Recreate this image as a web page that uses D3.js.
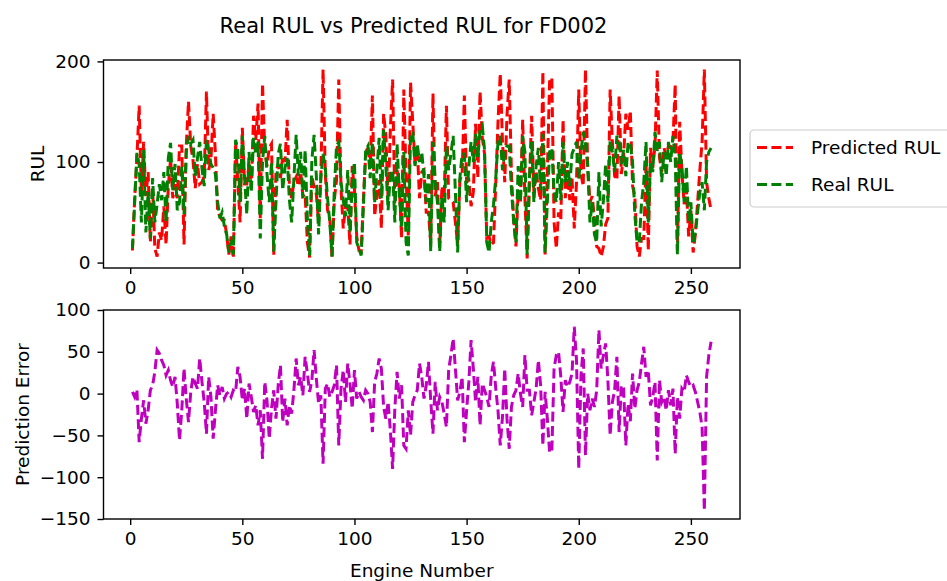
<!DOCTYPE html>
<html>
<head>
<meta charset="utf-8">
<script src="https://cdn.jsdelivr.net/npm/d3@7"></script>
<style>
  body { margin: 0; background: #fff; }
  svg { font-family: 'DejaVu Sans', sans-serif; }
</style>
</head>
<body>
<svg width="947" height="581"></svg>
<script>
// real RUL per engine
const realRUL = [
  14, 60, 109, 98, 40, 112, 30, 70, 24, 84,
  40, 58, 78, 62, 90, 40, 104, 119, 72, 98,
  52, 60, 96, 48, 110, 126, 118, 122, 86, 104,
  120, 94, 76, 122, 112, 98, 94, 88, 60, 44,
  50, 36, 28, 10, 22, 8, 122, 112, 60, 126,
  84, 48, 110, 70, 124, 108, 120, 24, 100, 126,
  88, 60, 100, 11, 60, 108, 118, 72, 94, 104,
  62, 40, 84, 127, 86, 110, 64, 112, 44, 7,
  102, 127, 86, 28, 84, 108, 94, 64, 40, 6,
  72, 116, 120, 80, 62, 46, 92, 30, 78, 100,
  20, 14, 7, 56, 112, 116, 84, 120, 60, 92,
  124, 64, 132, 96, 52, 88, 92, 40, 118, 70,
  34, 110, 20, 7, 129, 129, 96, 118, 100, 110,
  86, 60, 88, 11, 120, 80, 60, 11, 66, 40,
  116, 92, 108, 126, 70, 10, 84, 108, 108, 60,
  96, 120, 100, 128, 104, 132, 136, 112, 20, 10,
  40, 58, 84, 120, 126, 92, 110, 116, 116, 72,
  40, 20, 96, 60, 126, 110, 8, 84, 120, 60,
  96, 114, 72, 128, 10, 60, 110, 114, 70, 60,
  100, 62, 120, 80, 100, 76, 108, 114, 120, 82,
  110, 130, 118, 96, 40, 60, 28, 20, 90, 36,
  62, 98, 60, 122, 110, 90, 126, 120, 98, 112,
  86, 120, 118, 100, 48, 20, 20, 60, 80, 120,
  40, 100, 90, 130, 111, 120, 80, 110, 86, 120,
  100, 126, 105, 8, 110, 96, 60, 96, 40, 60,
  20, 30, 50, 70, 80, 52, 100, 110, 114
];

// predicted RUL per engine (red line)
const predRUL = [
  12, 64, 104, 156, 70, 120, 66, 90, 20, 74,
  14, 6, 30, 22, 56, 18, 76, 103, 64, 78,
  64, 116, 116, 18, 116, 160, 116, 102, 74, 98,
  78, 80, 86, 170, 92, 102, 148, 108, 50, 46,
  42, 42, 28, 8, 26, 4, 120, 80, 40, 134,
  78, 78, 98, 74, 146, 122, 158, 44, 178, 112,
  96, 114, 118, 7, 90, 98, 84, 106, 100, 142,
  76, 64, 80, 85, 76, 90, 66, 68, 20, 5,
  86, 75, 68, 40, 86, 192, 88, 52, 44, 4,
  62, 82, 182, 74, 34, 56, 56, 18, 96, 72,
  26, 12, 11, 64, 108, 116, 94, 166, 46, 68,
  82, 34, 148, 126, 62, 132, 182, 58, 92, 76,
  24, 172, 86, 27, 179, 139, 98, 114, 64, 90,
  92, 50, 50, 19, 168, 66, 80, 15, 76, 64,
  156, 64, 62, 60, 40, 18, 82, 88, 166, 80,
  82, 56, 70, 138, 84, 170, 124, 108, 24, 26,
  18, 20, 78, 140, 188, 120, 80, 146, 182, 88,
  42, 16, 72, 60, 142, 64, 4, 80, 146, 70,
  90, 74, 62, 190, 8, 90, 180, 184, 40, 14,
  50, 42, 142, 64, 92, 62, 84, 34, 80, 172,
  88, 76, 192, 96, 60, 66, 44, 16, 14, 6,
  16, 38, 44, 172, 120, 86, 82, 166, 88, 106,
  148, 132, 151, 76, 66, 16, 6, 24, 24, 100,
  12, 114, 94, 116, 191, 104, 90, 114, 106, 116,
  114, 120, 177, 12, 140, 90, 58, 74, 26, 52,
  10, 28, 60, 92, 120, 192, 80, 64, 52
];

const xTicks = [0, 50, 100, 150, 200, 250];
const rulTicks = [0, 100, 200];
const errTicks = [100, 50, 0, -50, -100, -150];
const errRange = [-150, 100];

const engines = realRUL.map((d, i) => i + 1);
// error = real - predicted, like the original plot
const errors = realRUL.map((d, i) => d - predRUL[i]);

const svg = d3.select('svg');
const left = 103.5, right = 740;
const top1 = 60, bottom1 = 268;
const top2 = 310, bottom2 = 519;
const tickFont = '18.5px';
const dash = '10,4.4';
const lw = 3;

// matplotlib style 5% margins
const xMin = 1, xMax = engines.length;
const xPad = (xMax - xMin) * 0.05;
const x = d3.scaleLinear().domain([xMin - xPad, xMax + xPad]).range([left, right]);

const allRul = realRUL.concat(predRUL);
const rMin = d3.min(allRul), rMax = d3.max(allRul);
const rPad = (rMax - rMin) * 0.05;
const y1 = d3.scaleLinear().domain([rMin - rPad, rMax + rPad]).range([bottom1, top1]);
const y2 = d3.scaleLinear().domain(errRange).range([bottom2, top2]);

function drawAxes(y, yTicks, top, bottom) {
  const gx = svg.append('g').attr('transform', 'translate(0,' + bottom + ')')
    .call(d3.axisBottom(x).tickValues(xTicks).tickSize(6).tickPadding(7));
  const gy = svg.append('g').attr('transform', 'translate(' + left + ',0)')
    .call(d3.axisLeft(y).tickValues(yTicks).tickSize(6).tickPadding(7));
  [gx, gy].forEach(g => {
    g.select('.domain').remove();
    g.selectAll('line').attr('stroke', '#000').attr('stroke-width', 1.4);
    g.selectAll('text').attr('fill', '#000').style('font-size', tickFont)
      .style('font-family', 'DejaVu Sans');
  });
  svg.append('rect')
    .attr('x', left).attr('y', top)
    .attr('width', right - left).attr('height', bottom - top)
    .attr('fill', 'none').attr('stroke', '#000').attr('stroke-width', 1.4);
}

function drawLine(vals, y, color) {
  const line = d3.line().x((d, i) => x(engines[i])).y(d => y(d));
  svg.append('path')
    .datum(vals)
    .attr('d', line)
    .attr('fill', 'none')
    .attr('stroke', color)
    .attr('stroke-width', lw)
    .attr('stroke-dasharray', dash);
}

// top panel
drawLine(predRUL, y1, '#ff0000');
drawLine(realRUL, y1, '#008000');
drawAxes(y1, rulTicks, top1, bottom1);

// bottom panel
drawLine(errors, y2, '#bf00bf');
drawAxes(y2, errTicks, top2, bottom2);

// title and labels
svg.append('text')
  .attr('x', 413.5).attr('y', 33)
  .attr('text-anchor', 'middle')
  .style('font-size', '21px')
  .text('Real RUL vs Predicted RUL for FD002');

svg.append('text')
  .attr('transform', 'translate(44,' + ((top1 + bottom1) / 2) + ') rotate(-90)')
  .attr('text-anchor', 'middle')
  .style('font-size', tickFont)
  .text('RUL');

svg.append('text')
  .attr('transform', 'translate(29,' + ((top2 + bottom2) / 2) + ') rotate(-90)')
  .attr('text-anchor', 'middle')
  .style('font-size', tickFont)
  .text('Prediction Error');

svg.append('text')
  .attr('x', (left + right) / 2).attr('y', 577)
  .attr('text-anchor', 'middle')
  .style('font-size', tickFont)
  .text('Engine Number');

// legend, sticks out of the right edge like the original
const legend = svg.append('g');
legend.append('rect')
  .attr('x', 750).attr('y', 130)
  .attr('width', 230).attr('height', 77)
  .attr('rx', 4)
  .attr('fill', '#fff').attr('fill-opacity', 0.8)
  .attr('stroke', '#cccccc').attr('stroke-width', 1.2);
const items = [
  { name: 'Predicted RUL', color: '#ff0000', y: 147.5 },
  { name: 'Real RUL', color: '#008000', y: 184.5 }
];
items.forEach(d => {
  legend.append('line')
    .attr('x1', 757).attr('x2', 793)
    .attr('y1', d.y).attr('y2', d.y)
    .attr('stroke', d.color).attr('stroke-width', lw)
    .attr('stroke-dasharray', dash);
  legend.append('text')
    .attr('x', 811).attr('y', d.y + 6.5)
    .style('font-size', tickFont)
    .text(d.name);
});
</script>
</body>
</html>
